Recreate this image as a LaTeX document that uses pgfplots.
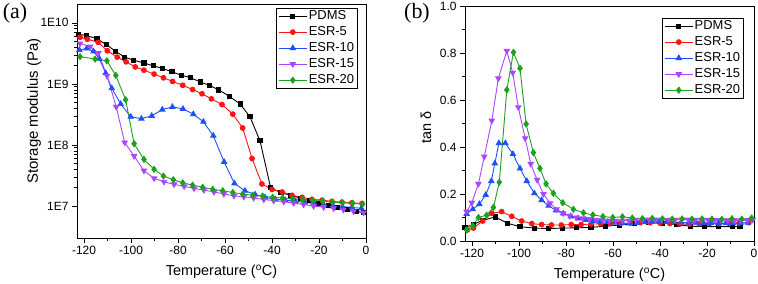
\documentclass[border=0pt]{standalone}
\usepackage{pgfplots}
\pgfplotsset{compat=1.18}
\usepackage{fontspec}
\setmainfont{Liberation Sans}
\newfontfamily\seriffont{Liberation Serif}
\definecolor{cblack}{RGB}{0,0,0}
\definecolor{cred}{RGB}{255,20,20}
\definecolor{cblue}{RGB}{30,80,255}
\definecolor{cpurple}{RGB}{170,70,255}
\definecolor{cgreen}{RGB}{30,160,30}
\pgfplotsset{
 myaxis/.style={
  scale only axis, width=289bp,
  axis line style={line width=0.8bp, black},
  tick style={line width=0.6bp, black},
  tick align=outside, tick pos=left,
  major tick length=5bp, minor tick length=3bp,
  xmin=-123, xmax=0,
  xtick={-120,-100,...,0},
  minor x tick num=1,
  tick label style={font=\fontsize{12}{14}\selectfont},
  /pgf/number format/assume math mode=true,
  every axis x label/.style={at={(rel axis cs:0.5,0)}, yshift=-34bp, anchor=center, font=\fontsize{14.5}{17}\selectfont},
  xlabel={Temperature (\textsuperscript{o}C)},
  legend style={draw=black, line width=0.6bp, font=\fontsize{13}{15}\selectfont, anchor=north east, inner xsep=2bp, inner ysep=1bp, row sep=2.5bp, nodes={inner sep=1.5bp}},
  legend cell align=left,
  legend image code/.code={\draw[mark repeat=2,mark phase=2] plot coordinates {(0bp,0bp) (14bp,0bp) (28bp,0bp)};},
 },
 s1/.style={cblack, line width=0.9bp, mark=square*, mark size=2.1bp, mark options={solid}},
 s2/.style={cred, line width=0.9bp, mark=*, mark size=2.4bp, mark options={solid}},
 s3/.style={cblue, line width=0.9bp, mark=triangle*, mark size=3bp, mark options={solid}},
 s4/.style={cpurple, line width=0.9bp, mark=triangle*, mark size=3bp, mark options={solid, rotate=180}},
 s5/.style={cgreen, line width=0.9bp, mark=diamond*, mark size=3bp, mark options={solid}},
}
\begin{document}
\begin{tikzpicture}
\path[use as bounding box] (0,0) rectangle (758bp,284bp);
\node[font=\seriffont\fontsize{22}{24}\selectfont] at (15bp,271bp) {(a)};
\node[font=\seriffont\fontsize{22}{24}\selectfont] at (417bp,271bp) {(b)};
\begin{axis}[myaxis, at={(77bp,46bp)}, anchor=south west, height=233.5bp,
  ymode=log, ymin=3e6, ymax=2e10,
  ytick={1e7,1e8,1e9,1e10}, yticklabels={1E7,1E8,1E9,1E10},
  ylabel={Storage modulus (Pa)},
  every axis y label/.style={at={(rel axis cs:0,0.544)}, xshift=-43bp, rotate=90, anchor=center, font=\fontsize{15}{17}\selectfont},
  legend style={at={(0.972,0.985)}},
]
\addplot[s1] coordinates {(-122.4,6.5e9) (-118.9,6.2e9) (-114.5,5.5e9) (-110.5,4.4e9) (-106.5,3.4e9) (-102.7,2.75e9) (-99.0,2.45e9) (-94.5,2.2e9) (-90.5,1.98e9) (-86.5,1.79e9) (-82.6,1.58e9) (-78.6,1.39e9) (-74.6,1.26e9) (-70.6,1.08e9) (-66.7,9.5e8) (-62.7,8.0e8) (-58.2,6.3e8) (-53.6,4.7e8) (-49.4,2.9e8) (-45.1,1.17e8) (-40.6,2.0e7) (-36.2,1.65e7) (-32,1.5e7) (-28,1.35e7) (-24,1.22e7) (-20,1.12e7) (-16,1.03e7) (-12,9.5e6) (-8,8.8e6) (-4,8.2e6) (-1,7.8e6)};
\addlegendentry{PDMS}
\addplot[s2] coordinates {(-121.7,5.8e9) (-118.6,5.4e9) (-114.0,4.8e9) (-110.1,3.5e9) (-105.9,2.75e9) (-102.1,2.3e9) (-98.2,1.9e9) (-94.5,1.68e9) (-90.2,1.45e9) (-86.2,1.26e9) (-82.3,1.1e9) (-78.0,9.5e8) (-73.8,8.1e8) (-69.8,6.9e8) (-65.8,5.7e8) (-61.3,4.6e8) (-56.7,3.2e8) (-52.5,1.9e8) (-48.5,6.0e7) (-44.3,2.3e7) (-40.0,1.87e7) (-35.7,1.7e7) (-31.5,1.5e7) (-27.2,1.39e7) (-23.0,1.29e7) (-18.7,1.25e7) (-14.5,1.19e7) (-10.2,1.16e7) (-6.0,1.13e7) (-1.7,1.1e7)};
\addlegendentry{ESR-5}
\addplot[s3] coordinates {(-122,3.6e9) (-118.9,3.8e9) (-116,3.4e9) (-113.5,2.6e9) (-110.8,1.5e9) (-108.2,8.5e8) (-104.4,4.7e8) (-100.1,2.9e8) (-95.6,2.7e8) (-91.2,3.0e8) (-86.7,3.8e8) (-82.4,4.2e8) (-77.9,3.9e8) (-73.5,3.2e8) (-69.2,2.4e8) (-65.0,1.42e8) (-60.4,5.3e7) (-56.0,2.35e7) (-51.5,1.78e7) (-47.2,1.55e7) (-43.0,1.39e7) (-38.7,1.29e7) (-34.4,1.25e7) (-30,1.2e7) (-26,1.15e7) (-22,1.1e7) (-18,1.06e7) (-14,1.02e7) (-10,9.8e6) (-6,9.5e6) (-2,9.2e6)};
\addlegendentry{ESR-10}
\addplot[s4] coordinates {(-121.7,4.6e9) (-117.4,4.1e9) (-113.9,3.2e9) (-110.2,1.35e9) (-106.3,4.2e8) (-102.7,1.1e8) (-98.7,6.6e7) (-94.5,3.8e7) (-90.2,2.85e7) (-86.0,2.5e7) (-81.7,2.27e7) (-77.4,2.1e7) (-73.2,1.95e7) (-69,1.83e7) (-64.7,1.7e7) (-60.5,1.58e7) (-56.2,1.47e7) (-52,1.42e7) (-47.8,1.36e7) (-43.5,1.28e7) (-39.3,1.23e7) (-35,1.18e7) (-30.8,1.12e7) (-26.6,1.06e7) (-22.3,1.0e7) (-18,9.6e6) (-13.8,9.2e6) (-9.6,8.7e6) (-5.3,8.2e6) (-1,7.8e6)};
\addlegendentry{ESR-15}
\addplot[s5] coordinates {(-121.7,2.8e9) (-115.3,2.55e9) (-110.3,2.4e9) (-106.5,1.38e9) (-102.3,5.5e8) (-98.7,1.05e8) (-94.5,5.8e7) (-90.2,4.0e7) (-86.2,3.1e7) (-82.0,2.7e7) (-78.0,2.4e7) (-73.8,2.2e7) (-69.5,2.03e7) (-65.2,1.88e7) (-61.0,1.78e7) (-56.7,1.67e7) (-52.5,1.57e7) (-48.2,1.5e7) (-44.0,1.46e7) (-39.7,1.39e7) (-35.5,1.36e7) (-31.2,1.32e7) (-27,1.28e7) (-22.7,1.24e7) (-18.5,1.2e7) (-14.2,1.16e7) (-10,1.13e7) (-5.7,1.11e7) (-1.4,1.08e7)};
\addlegendentry{ESR-20}
\end{axis}
\begin{axis}[myaxis, at={(465bp,43bp)}, anchor=south west, height=235bp,
  ymin=0, ymax=1.0, ytick={0,0.2,...,1.0}, minor y tick num=1,
  yticklabel style={/pgf/number format/fixed, /pgf/number format/fixed zerofill, /pgf/number format/precision=1},
  ylabel={tan δ},
  every axis y label/.style={at={(rel axis cs:0,0.485)}, xshift=-39bp, rotate=90, anchor=center, font=\fontsize{14.5}{17}\selectfont},
  legend style={at={(0.965,0.949)}},
]
\addplot[s1] coordinates {(-123,0.058) (-119.5,0.07) (-115.5,0.088) (-110.2,0.102) (-104.8,0.075) (-99.6,0.061) (-93.5,0.055) (-87.5,0.053) (-81.4,0.055) (-75.5,0.056) (-69.4,0.058) (-63.3,0.063) (-57.2,0.068) (-51,0.074) (-45,0.078) (-39,0.076) (-33,0.07) (-27.2,0.063) (-21,0.061) (-15.2,0.061) (-9.1,0.061) (-6,0.062)};
\addlegendentry{PDMS}
\addplot[s2] coordinates {(-122,0.047) (-119.4,0.055) (-115.5,0.085) (-111.6,0.118) (-107.4,0.125) (-103.1,0.105) (-98.9,0.085) (-94.6,0.074) (-90.4,0.07) (-86.2,0.068) (-82,0.068) (-77.8,0.07) (-73.6,0.07) (-69.4,0.072) (-65.2,0.073) (-61,0.074) (-56.8,0.075) (-52.6,0.076) (-48.4,0.078) (-44.2,0.078) (-40,0.076) (-35.8,0.074) (-31.6,0.072) (-27.4,0.072) (-23.2,0.073) (-19,0.074) (-14.8,0.074) (-10.6,0.075) (-6.4,0.076) (-2.2,0.078)};
\addlegendentry{ESR-5}
\addplot[s3] coordinates {(-122.3,0.115) (-119.7,0.135) (-116.9,0.157) (-114.2,0.196) (-111.8,0.255) (-110.3,0.33) (-108.6,0.416) (-105.8,0.416) (-102.6,0.37) (-99.6,0.309) (-96.7,0.255) (-93.5,0.203) (-90.4,0.174) (-87.4,0.15) (-84.3,0.13) (-81.2,0.117) (-78,0.105) (-74.9,0.096) (-71.8,0.09) (-68.6,0.085) (-65.5,0.082) (-62.4,0.08) (-59.2,0.078) (-56,0.076) (-52.9,0.075) (-49.8,0.077) (-46.6,0.08) (-43.5,0.082) (-40.4,0.082) (-37.2,0.081) (-34,0.08) (-31,0.079) (-27.8,0.078) (-24.6,0.078) (-21.5,0.077) (-18.4,0.077) (-15.2,0.076) (-12,0.076) (-9,0.077) (-5.8,0.077) (-2.6,0.078)};
\addlegendentry{ESR-10}
\addplot[s4] coordinates {(-122.3,0.125) (-120.1,0.163) (-117.3,0.243) (-114.8,0.359) (-111.6,0.512) (-108.8,0.692) (-105.2,0.809) (-102.7,0.716) (-100.3,0.569) (-97.4,0.437) (-95,0.328) (-92.3,0.26) (-89.6,0.2) (-86.8,0.16) (-84,0.135) (-81.2,0.118) (-78.4,0.107) (-75.6,0.1) (-72.8,0.096) (-70,0.093) (-67.2,0.09) (-64.4,0.088) (-61.6,0.087) (-58.8,0.086) (-56,0.086) (-53.2,0.087) (-50.4,0.088) (-47.6,0.09) (-44.8,0.091) (-42,0.091) (-39.2,0.091) (-36.4,0.09) (-33.6,0.09) (-30.8,0.091) (-28,0.091) (-25.2,0.09) (-22.4,0.09) (-19.6,0.09) (-16.8,0.089) (-14,0.089) (-11.2,0.088) (-8.4,0.088) (-5.6,0.088) (-2.8,0.088) (-0.5,0.09)};
\addlegendentry{ESR-15}
\addplot[s5] coordinates {(-122.3,0.047) (-119.7,0.065) (-117.3,0.1) (-113.8,0.11) (-110.9,0.143) (-108.4,0.25) (-105.2,0.643) (-102.4,0.803) (-99.6,0.735) (-97,0.498) (-93.9,0.376) (-91.1,0.309) (-88.5,0.243) (-85.4,0.203) (-81.4,0.163) (-76.9,0.135) (-72.6,0.12) (-68.6,0.111) (-64.3,0.104) (-60.1,0.1) (-56,0.103) (-51.8,0.098) (-47.5,0.095) (-43.3,0.096) (-39,0.094) (-34.8,0.093) (-30.6,0.094) (-26.4,0.093) (-22.1,0.094) (-17.9,0.093) (-13.7,0.092) (-9.4,0.095) (-5.2,0.093) (-1,0.098)};
\addlegendentry{ESR-20}
\end{axis}
\end{tikzpicture}
\end{document}
